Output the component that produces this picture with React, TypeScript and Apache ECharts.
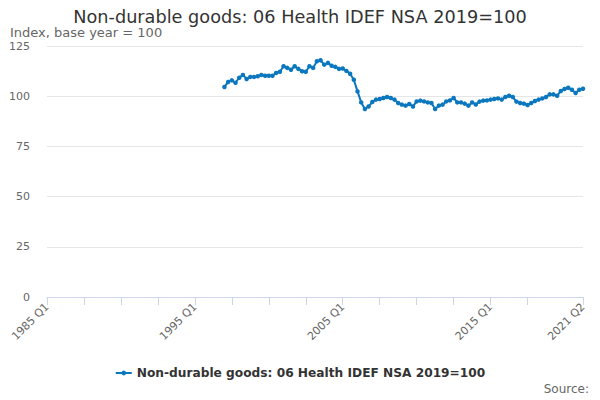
import React, { useEffect, useRef } from "react";
import * as echarts from "echarts";

const startYear = 1985;
const endYear = 2021;
const endQuarter = 2;
const firstDataIndex = 48; // 1997 Q1
const healthValues: number[] = [
  104.6, 107.1, 107.9, 106.7,
  109.2, 110.6, 108.6, 109.6,
  109.6, 109.9, 110.6, 110.2,
  110.2, 110.2, 111.6, 112.2,
  114.9, 114.1, 113.2, 114.9,
  113.6, 112.4, 112.2, 114.9,
  114.1, 117.4, 117.9, 115.7,
  116.6, 115.2, 114.6, 113.6,
  113.8, 112.6, 111.2, 108.2,
  102.4, 96.9, 93.6, 94.9,
  97.1, 98.3, 98.6, 99.1,
  99.6, 99.1, 98.3, 96.6,
  95.8, 95.3, 96.1, 94.9,
  97.4, 97.8, 97.4, 96.9,
  96.6, 93.6, 95.3, 95.8,
  97.4, 97.9, 99.1, 96.9,
  96.9, 96.3, 95.3, 96.9,
  95.9, 97.3, 97.8, 97.9,
  98.3, 98.6, 98.9, 98.3,
  99.6, 100.2, 99.6, 97.3,
  96.6, 96.3, 95.6, 96.6,
  97.6, 98.3, 98.9, 99.6,
  100.9, 100.9, 100.2, 102.6,
  103.6, 104.2, 103.2, 101.6,
  103.2, 103.7,
];
const yTicks = [0, 25, 50, 75, 100, 125];

const seriesName = "Non-durable goods: 06 Health IDEF NSA 2019=100";

function buildCategories(): string[] {
  const out: string[] = [];
  for (let y = startYear; y <= endYear; y++) {
    for (let q = 1; q <= 4; q++) {
      if (y === endYear && q > endQuarter) break;
      out.push(`${y} Q${q}`);
    }
  }
  return out;
}

export default function App() {
  const ref = useRef<HTMLDivElement>(null);
  useEffect(() => {
    document.body.style.margin = "0";
    if (!ref.current) return;
    const chart = echarts.init(ref.current, undefined, { renderer: "svg" });
    const categories = buildCategories();
    const data: (number | null)[] = categories.map((_, i) =>
      i >= firstDataIndex && i - firstDataIndex < healthValues.length
        ? healthValues[i - firstDataIndex]
        : null
    );
    const last = categories.length - 1;
    const font = "DejaVu Sans";
    chart.setOption({
      animation: false,
      textStyle: { fontFamily: font },
      title: [
        {
          text: "Non-durable goods: 06 Health IDEF NSA 2019=100",
          left: "center",
          top: 3,
          textStyle: {
            fontSize: 17.7,
            lineHeight: 17,
            fontWeight: "normal",
            color: "#333333",
            fontFamily: font,
          },
        },
        {
          text: "Index, base year = 100",
          left: 5,
          top: 21,
          textStyle: {
            fontSize: 13,
            lineHeight: 12,
            fontWeight: "normal",
            color: "#666666",
            fontFamily: font,
          },
        },
      ],
      grid: { left: 47, right: 17, top: 46, bottom: 103, containLabel: false },
      legend: {
        bottom: 16,
        left: "center",
        itemWidth: 16,
        itemHeight: 6,
        itemGap: 6,
        textStyle: { fontSize: 12.2, fontWeight: "bold", color: "#333333", fontFamily: font },
        data: [seriesName],
      },
      graphic: [
        {
          type: "text",
          right: 11,
          top: 383,
          style: { text: "Source:", fontSize: 12, fill: "#666666", fontFamily: font },
        },
      ],
      xAxis: {
        type: "category",
        boundaryGap: false,
        data: categories,
        axisLine: { lineStyle: { color: "#ccd6eb" } },
        axisTick: {
          show: true,
          length: 8,
          lineStyle: { color: "#ccd6eb" },
          interval: (i: number) => (i % 10 === 0 && i <= 130) || i === last,
        },
        axisLabel: {
          rotate: 45,
          fontSize: 11,
          color: "#666666",
          margin: 8,
          fontFamily: font,
          interval: (i: number) => i % 40 === 0 || i === last,
        },
        splitLine: { show: false },
      },
      yAxis: {
        type: "value",
        min: yTicks[0],
        max: yTicks[yTicks.length - 1],
        interval: 25,
        axisLine: { show: false },
        axisTick: { show: false },
        axisLabel: { fontSize: 11, color: "#666666", margin: 17, fontFamily: font },
        splitLine: { lineStyle: { color: "#e6e6e6" } },
      },
      series: [
        {
          name: seriesName,
          type: "line",
          data,
          symbol: "circle",
          symbolSize: 4.5,
          showSymbol: true,
          showAllSymbol: true,
          connectNulls: false,
          itemStyle: { color: "#0a77bf" },
          lineStyle: { color: "#0a77bf", width: 2 },
        },
      ],
    });
    return () => chart.dispose();
  }, []);
  return <div ref={ref} style={{ width: 600, height: 400 }} />;
}
